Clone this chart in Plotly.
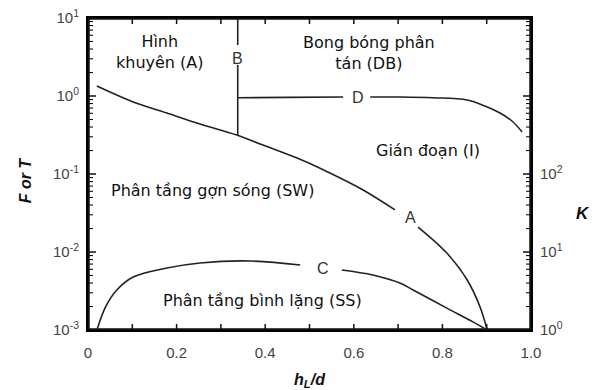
import math
import plotly.graph_objects as go

# Curve A: F vs hL/d (gap at label)
a_h = [0.020, 0.102, 0.178, 0.253, 0.336, 0.395, 0.472, 0.546, 0.621, 0.693, None,
       0.745, 0.810, 0.856, 0.885, 0.901]
a_f = [1.34, 0.838, 0.605, 0.438, 0.316, 0.235, 0.160, 0.103, 0.0624, 0.0346, None,
       0.0209, 0.0097, 0.00438, 0.00197, 0.001]

# Curve B: vertical boundary
b_h = [0.338, 0.338, None, 0.338, 0.338]
b_f = [10.0, 4.5, None, 2.5, 0.316]

# Curve D: T vs hL/d
d_h = [0.339, 0.45, 0.576, None, 0.637, 0.704, 0.779, 0.856, 0.896, 0.930, 0.957, 0.980]
d_t = [0.95, 0.96, 0.97, None, 0.97, 0.97, 0.95, 0.889, 0.744, 0.605, 0.478, 0.346]

# Curve C: K vs hL/d
c_h = [0.020, 0.040, 0.065, 0.102, 0.178, 0.253, 0.366, 0.479, None,
       0.573, 0.643, 0.704, 0.734, 0.810, 0.869, 0.901]
c_k = [1.0, 2.0, 3.26, 4.78, 6.23, 7.24, 7.67, 6.81, None,
       5.88, 5.07, 4.0, 3.26, 1.91, 1.27, 1.0]

x_ticks = [0, 0.1, 0.2, 0.3, 0.4, 0.5, 0.6, 0.7, 0.8, 0.9, 1.0]
x_labels = ["0", "", "0.2", "", "0.4", "", "0.6", "", "0.8", "", "1.0"]
y_ticks = [0.001, 0.01, 0.1, 1, 10]
y_labels = ["10<sup>-3</sup>", "10<sup>-2</sup>", "10<sup>-1</sup>", "10<sup>0</sup>", "10<sup>1</sup>"]
k_ticks = [1, 10, 100, 1000, 10000]
k_labels = ["10<sup>0</sup>", "10<sup>1</sup>", "10<sup>2</sup>", "", ""]

# Curve labels
lbl_text = ["A", "B", "C", "D"]
lbl_h = [0.727, 0.338, 0.530, 0.609]
lbl_v = [0.0273, 3.07, 6.23, 0.97]
lbl_axis = ["y", "y", "y2", "y"]

# Region labels
reg_text = ["Hình<br>khuyên (A)", "Bong bóng phân<br>tán (DB)", "Gián đoạn (I)",
            "Phân tầng gợn sóng (SW)", "Phân tầng bình lặng (SS)"]
reg_h = [0.163, 0.635, 0.768, 0.282, 0.393]
reg_v = [3.72, 3.6, 0.203, 0.0606, 0.0024]

INK = "black"
X_RANGE = [0, 1]
Y_RANGE = [-3, 1]     # log10 of F or T
K_RANGE = [0, 4]      # log10 of K
PLOT_W, PLOT_H = 443, 312


def minor_vals(lo, hi):
    return [m * 10 ** e for e in range(lo, hi) for m in range(2, 10)]


def x_edge_ticks(vals, length_px):
    """Tick segments along bottom and top edges (inside)."""
    dl = length_px / PLOT_H * (Y_RANGE[1] - Y_RANGE[0])
    xs, ys = [], []
    for v in vals:
        xs += [v, v, None, v, v, None]
        ys += [10 ** Y_RANGE[0], 10 ** (Y_RANGE[0] + dl), None,
               10 ** Y_RANGE[1], 10 ** (Y_RANGE[1] - dl), None]
    return xs, ys


def y_edge_ticks(vals, length_px, at_right):
    dx = length_px / PLOT_W * (X_RANGE[1] - X_RANGE[0])
    x0 = X_RANGE[1] if at_right else X_RANGE[0]
    x1 = x0 - dx if at_right else x0 + dx
    xs, ys = [], []
    for v in vals:
        xs += [x0, x1, None]
        ys += [v, v, None]
    return xs, ys


line = dict(color="#222222", width=1.6)
fig = go.Figure()
fig.add_trace(go.Scatter(x=a_h, y=a_f, mode="lines", line=line, line_shape="spline", connectgaps=False))
fig.add_trace(go.Scatter(x=b_h, y=b_f, mode="lines", line=line, connectgaps=False))
fig.add_trace(go.Scatter(x=d_h, y=d_t, mode="lines", line=line, line_shape="spline", connectgaps=False))
fig.add_trace(go.Scatter(x=c_h, y=c_k, mode="lines", line=line, line_shape="spline",
                         connectgaps=False, yaxis="y2"))

# axis frame and tick marks (drawn as line traces inside the plot area)
tick_line = dict(color="#111111", width=1.5)
minor_line = dict(color="#111111", width=1.1)
tx, ty = x_edge_ticks(x_ticks, 6)
fig.add_trace(go.Scatter(x=tx, y=ty, mode="lines", line=tick_line, hoverinfo="skip"))
lx, ly = y_edge_ticks(y_ticks, 8, False)
fig.add_trace(go.Scatter(x=lx, y=ly, mode="lines", line=tick_line, hoverinfo="skip"))
lx, ly = y_edge_ticks(minor_vals(Y_RANGE[0], Y_RANGE[1]), 5, False)
fig.add_trace(go.Scatter(x=lx, y=ly, mode="lines", line=minor_line, hoverinfo="skip"))
rx, ry = y_edge_ticks(k_ticks, 8, True)
fig.add_trace(go.Scatter(x=rx, y=ry, mode="lines", line=tick_line, hoverinfo="skip", yaxis="y2"))
rx, ry = y_edge_ticks(minor_vals(K_RANGE[0], K_RANGE[1]), 5, True)
fig.add_trace(go.Scatter(x=rx, y=ry, mode="lines", line=minor_line, hoverinfo="skip", yaxis="y2"))
fig.add_trace(go.Scatter(
    x=[X_RANGE[0], X_RANGE[1], X_RANGE[1], X_RANGE[0], X_RANGE[0]],
    y=[10 ** Y_RANGE[0], 10 ** Y_RANGE[0], 10 ** Y_RANGE[1], 10 ** Y_RANGE[1], 10 ** Y_RANGE[0]],
    mode="lines", line=dict(color="#111111", width=3.5), hoverinfo="skip"))

for t, h, v, ax in zip(lbl_text, lbl_h, lbl_v, lbl_axis):
    fig.add_annotation(x=h, y=math.log10(v), xref="x", yref=ax, text=t,
                       showarrow=False, font=dict(family="Liberation Sans", size=16, color="#333333"))

for t, h, v in zip(reg_text, reg_h, reg_v):
    fig.add_annotation(x=h, y=math.log10(v), xref="x", yref="y", text=t,
                       showarrow=False, align="center",
                       font=dict(family="DejaVu Sans", size=16, color="#111111"))

fig.add_annotation(x=-0.142, y=0.48, xref="paper", yref="paper", text="<b><i>F or T</i></b>",
                   textangle=-90, showarrow=False, xanchor="center", yanchor="middle",
                   font=dict(family="Liberation Sans", size=16, color="#111111"))
fig.add_annotation(x=1.117, y=0.375, xref="paper", yref="paper", text="<b><i>K</i></b>",
                   showarrow=False, xanchor="center", yanchor="middle",
                   font=dict(family="Liberation Sans", size=17, color="#111111"))

tickfont = dict(family="Liberation Sans", size=15, color="#444444")
fig.update_layout(
    width=598, height=390,
    margin=dict(l=88, r=67, t=18, b=60, autoexpand=False),
    paper_bgcolor="white", plot_bgcolor="white",
    showlegend=False, hovermode=False,
    xaxis=dict(range=X_RANGE, tickmode="array", tickvals=x_ticks, ticktext=x_labels,
               ticks="", showline=True, linecolor=INK, linewidth=2, mirror=True,
               showgrid=False, zeroline=False, tickfont=tickfont, ticklabelstandoff=8,
               automargin=False,
               title=dict(text="<b><i>h<sub>L</sub>/d</i></b>", standoff=26,
                          font=dict(family="Liberation Sans", size=16, color="#111111"))),
    yaxis=dict(type="log", range=Y_RANGE, tickmode="array", tickvals=y_ticks, ticktext=y_labels,
               ticks="", showline=True, linecolor=INK, linewidth=2,
               automargin=False, ticklabelstandoff=4,
               showgrid=False, zeroline=False, tickfont=tickfont),
    yaxis2=dict(type="log", range=K_RANGE, overlaying="y", side="right",
                tickmode="array", tickvals=k_ticks, ticktext=k_labels,
                ticks="", showline=True, linecolor=INK, linewidth=2,
                automargin=False, ticklabelstandoff=4,
                showgrid=False, zeroline=False, tickfont=tickfont),
)

fig.write_html("out.html", config={"displayModeBar": False},
               post_script="document.body.style.margin='0px';document.body.style.overflow='hidden';")
